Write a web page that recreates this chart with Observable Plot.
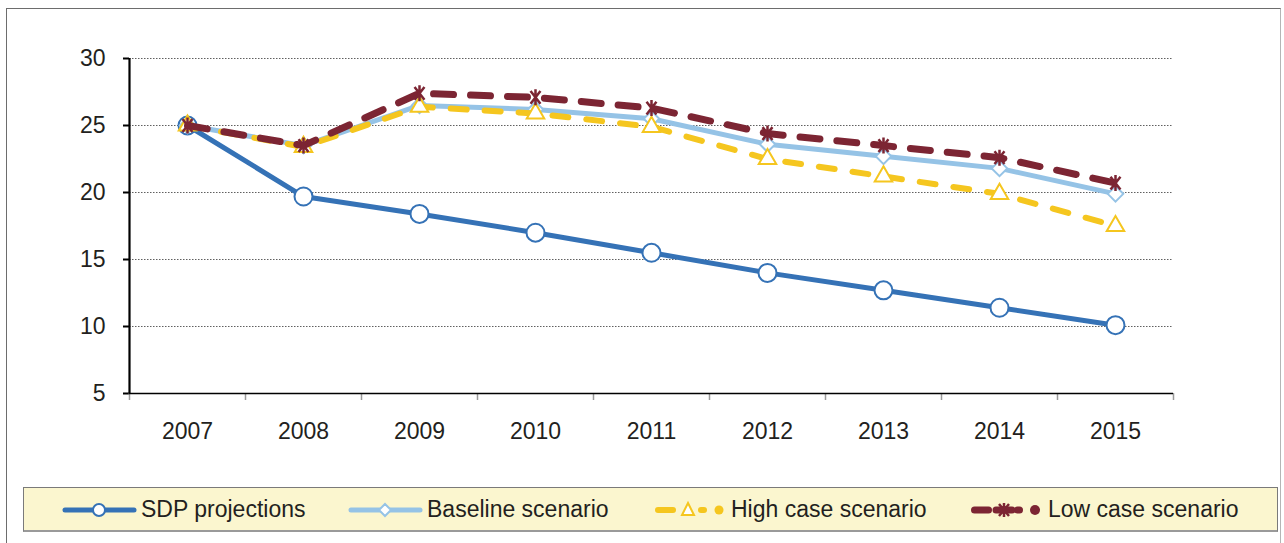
<!DOCTYPE html>
<html>
<head>
<meta charset="utf-8">
<script src="https://cdn.jsdelivr.net/npm/d3@7"></script>
<script src="https://cdn.jsdelivr.net/npm/@observablehq/plot@0.6"></script>
<style>
  html, body { margin: 0; padding: 0; background: #fff; }
  body { width: 1284px; height: 543px; position: relative; overflow: hidden;
         font-family: "Liberation Sans", Arial, sans-serif; color: #231f20; }
  #frame { position: absolute; left: 6px; top: 8px; width: 1275px; height: 560px;
           border: 1.5px solid #6d6d6d; border-right-color: #b5b5b5; box-sizing: border-box; }
  #chart { position: absolute; left: 0; top: 0; }
  #legend { position: absolute; left: 23px; top: 487px; width: 1255px; height: 45px;
            background: #fbf6cf; border: 1px solid #7a7a7a; border-bottom: 2px solid #9a9a9a;
            box-sizing: border-box; }
  .item { position: absolute; top: 0; height: 43px; }
  .item svg { position: absolute; top: 0; left: 0; }
  .item span { position: absolute; top: 9px; font-size: 23px; line-height: 24px; white-space: nowrap; }
</style>
</head>
<body>
<div id="frame"></div>
<div id="chart"></div>
<div id="legend"></div>
<script>
// ---- data ----
const years = [2007, 2008, 2009, 2010, 2011, 2012, 2013, 2014, 2015];
const sdpProjections   = [25.0, 19.7, 18.4, 17.0, 15.5, 14.0, 12.7, 11.4, 10.1];
const baselineScenario = [25.0, 23.5, 26.5, 26.2, 25.5, 23.6, 22.7, 21.8, 19.9];
const highCaseScenario = [25.0, 23.4, 26.4, 25.9, 24.9, 22.5, 21.2, 19.9, 17.5];
const lowCaseScenario  = [25.0, 23.5, 27.4, 27.1, 26.3, 24.4, 23.5, 22.6, 20.7];
const seriesNames = ["SDP projections", "Baseline scenario", "High case scenario", "Low case scenario"];
const yTicks = [5, 10, 15, 20, 25, 30];

// ---- styles ----
const BLUE = "#3572b6", LIGHT = "#95c3e6", YELLOW = "#f5c61f", RED = "#7c2533";
const FONT = '"Liberation Sans", Arial, sans-serif';

const rows = (vals) => years.map((yr, i) => ({year: yr, value: vals[i]}));
const bounds = years.map(y => y - 0.5).concat([years[years.length - 1] + 0.5]);

const starSymbol = {
  draw(ctx, size) {
    const r = Math.sqrt(size / Math.PI);
    ctx.moveTo(0, -r); ctx.lineTo(0, r);
    const a = r * 0.62, b = r * 0.8;
    ctx.moveTo(-a, -b); ctx.lineTo(a, b);
    ctx.moveTo(-a, b); ctx.lineTo(a, -b);
  }
};

const chart = Plot.plot({
  width: 1284,
  height: 480,
  marginTop: 58,
  marginLeft: 129,
  marginRight: 111,
  marginBottom: 87,
  x: {type: "linear", domain: [bounds[0], bounds[bounds.length - 1]], label: null},
  y: {type: "linear", domain: [5, 30], label: null},
  style: {fontFamily: FONT, fontSize: "23px", color: "#231f20", background: "transparent", overflow: "visible"},
  marks: [
    Plot.gridY(yTicks, {stroke: "#3a3a3a", strokeOpacity: 0.9, strokeWidth: 0.9, strokeDasharray: "1.5,1.5"}),
    Plot.axisY({ticks: yTicks, tickSize: 6, tickPadding: 18, stroke: "#000", strokeWidth: 2, fontSize: 23, label: null}),
    Plot.axisX({ticks: bounds, tickSize: 7, tickFormat: () => "", stroke: "#9a9a9a", strokeWidth: 1.5, label: null}),
    Plot.axisX({ticks: years, tickSize: 0, tickPadding: 29, tickFormat: d => String(d), fontSize: 23, label: null}),
    Plot.ruleY([5], {stroke: "#000", strokeWidth: 1.4}),
    Plot.ruleX([bounds[0]], {stroke: "#000", strokeWidth: 2.2}),

    Plot.line(rows(sdpProjections), {x: "year", y: "value", stroke: BLUE, strokeWidth: 5, strokeLinejoin: "round", strokeLinecap: "round"}),
    Plot.dot(rows(sdpProjections), {x: "year", y: "value", symbol: "circle", r: 9, fill: "#fff", stroke: BLUE, strokeWidth: 2}),

    Plot.line(rows(baselineScenario), {x: "year", y: "value", stroke: LIGHT, strokeWidth: 5, strokeLinejoin: "round", strokeLinecap: "round"}),
    Plot.dot(rows(baselineScenario), {x: "year", y: "value", symbol: "diamond2", r: 7, fill: "#fff", stroke: LIGHT, strokeWidth: 2}),

    Plot.line(rows(highCaseScenario), {x: "year", y: "value", stroke: YELLOW, strokeWidth: 6, strokeLinecap: "round", strokeLinejoin: "round", strokeDasharray: "16,18"}),
    Plot.dot(rows(highCaseScenario), {x: "year", y: "value", symbol: "triangle", r: 6.5, fill: "#fff", stroke: YELLOW, strokeWidth: 2}),

    Plot.line(rows(lowCaseScenario), {x: "year", y: "value", stroke: RED, strokeWidth: 7, strokeLinecap: "round", strokeLinejoin: "round", strokeDasharray: "20,17"}),
    Plot.dot(rows(lowCaseScenario), {x: "year", y: "value", symbol: starSymbol, r: 8, fill: "none", stroke: RED, strokeWidth: 2.5})
  ]
});
document.getElementById("chart").appendChild(chart);

// ---- legend ----
const legendItems = [
  {left: 38, text: 117, color: BLUE, width: 5, kind: "circle"},
  {left: 324, text: 403, color: LIGHT, width: 5, kind: "diamond"},
  {left: 628, text: 707, color: YELLOW, width: 6, kind: "triangle"},
  {left: 944, text: 1024, color: RED, width: 7, kind: "star"}
];
const legend = document.getElementById("legend");
const ns = "http://www.w3.org/2000/svg";
legendItems.forEach((it, i) => {
  const div = document.createElement("div");
  div.className = "item";
  div.style.left = it.left + "px";
  div.style.width = (it.text - it.left + 260) + "px";
  const cy = 22;
  let svg = `<svg xmlns="${ns}" width="80" height="43">`;
  if (it.kind === "circle" || it.kind === "diamond") {
    svg += `<line x1="3" y1="${cy}" x2="72" y2="${cy}" stroke="${it.color}" stroke-width="${it.width}" stroke-linecap="round"/>`;
    if (it.kind === "circle") {
      svg += `<circle cx="37" cy="${cy}" r="6" fill="#fff" stroke="${it.color}" stroke-width="2"/>`;
    } else {
      svg += `<path d="M37,${cy-6}L43,${cy}L37,${cy+6}L31,${cy}Z" fill="#fff" stroke="${it.color}" stroke-width="2"/>`;
    }
  } else {
    const w = it.width;
    svg += `<line x1="${3+w/2}" y1="${cy}" x2="${24-w/2}" y2="${cy}" stroke="${it.color}" stroke-width="${w}" stroke-linecap="round"/>`;
    svg += `<line x1="${46+w/2}" y1="${cy}" x2="${55-w/2}" y2="${cy}" stroke="${it.color}" stroke-width="${w}" stroke-linecap="round"/>`;
    svg += `<line x1="67" y1="${cy}" x2="67.01" y2="${cy}" stroke="${it.color}" stroke-width="${w+3}" stroke-linecap="round"/>`;
    if (it.kind === "triangle") {
      svg += `<path d="M36,${cy-7}L42,${cy+5}L30,${cy+5}Z" fill="#fff" stroke="${it.color}" stroke-width="2"/>`;
    } else {
      svg += `<path d="M36,${cy-7}L36,${cy+7}M31,${cy-6}L41,${cy+6}M31,${cy+6}L41,${cy-6}" fill="none" stroke="${it.color}" stroke-width="2.5"/>`;
      svg += `<line x1="28" y1="${cy}" x2="44" y2="${cy}" stroke="${it.color}" stroke-width="${w}" stroke-linecap="round"/>`;
    }
  }
  svg += `</svg>`;
  div.innerHTML = svg + `<span style="left:${it.text - it.left}px">${seriesNames[i]}</span>`;
  legend.appendChild(div);
});
</script>
</body>
</html>
